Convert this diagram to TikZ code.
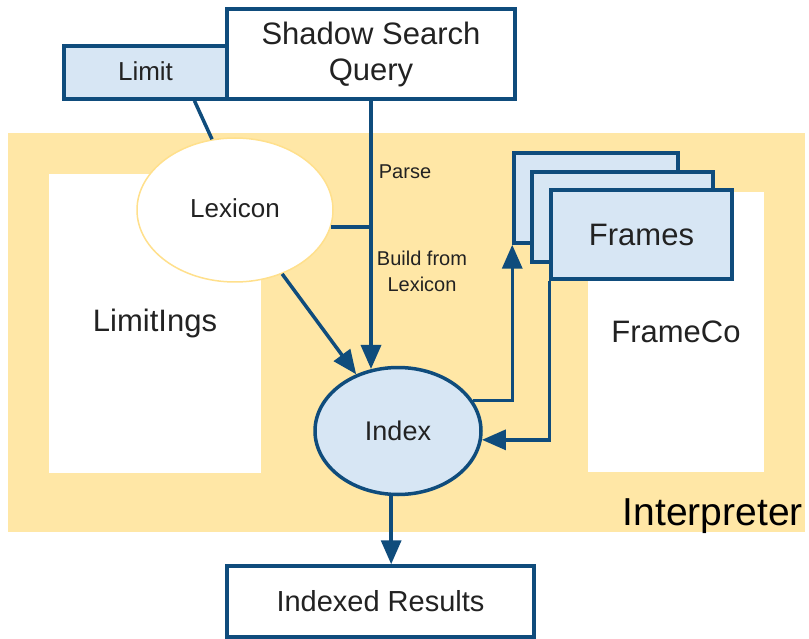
\documentclass[tikz,border=0pt]{standalone}
\usepackage{fontspec}
\setmainfont{Liberation Sans}
\usetikzlibrary{arrows.meta,shapes.geometric}

\definecolor{navy}{HTML}{0F4C7C}
\definecolor{paleblue}{HTML}{D7E6F4}
\definecolor{sand}{HTML}{FFE7A6}
\definecolor{sandline}{HTML}{FFE08C}
\definecolor{ink}{HTML}{222222}

\tikzset{
  box/.style={draw=navy, line width=3.5pt, rectangle, inner sep=0pt, text=ink},
  bluebox/.style={box, fill=paleblue},
  whitebox/.style={box, fill=white},
  panel/.style={rectangle, fill=white, inner sep=0pt, text=ink},
  conn/.style={draw=navy, line width=3.5pt},
  arr/.style={conn, -{Triangle[length=24pt,width=20pt]}},
  lbl/.style={font=\fontsize{20}{26}\selectfont, text=ink, align=center, inner sep=0pt},
}

\begin{document}
\begin{tikzpicture}[x=1pt,y=-1pt]
  \useasboundingbox (0,0) rectangle (809,639);

  % interpreter band and its label
  \node[rectangle, fill=sand, inner sep=0pt, minimum width=797pt, minimum height=399pt] (interp) at (406.5,332.5) {};
  \node[anchor=base east, inner sep=0pt, font=\fontsize{39}{44}\selectfont] (interplbl) at (803,525) {Interpreter};

  % white panels inside the band
  \node[panel, minimum width=212pt, minimum height=299pt, font=\fontsize{31}{36}\selectfont] (limitings) at (155,323.5) {LimitIngs};
  \node[panel, minimum width=176pt, minimum height=280pt, font=\fontsize{31}{36}\selectfont] (frameco) at (676,332) {FrameCo};

  % lexicon
  \node[ellipse, draw=sandline, line width=1.5pt, fill=white, minimum width=196pt, minimum height=144pt, inner sep=0pt, text=ink, font=\fontsize{26}{30}\selectfont] (lex) at (235,210) {\raisebox{3pt}{Lexicon}};

  % inputs at the top
  \node[bluebox, minimum width=163pt, minimum height=53pt, font=\fontsize{26}{30}\selectfont] (limit) at (145.5,72.5) {\raisebox{2pt}{Limit}};
  \node[whitebox, minimum width=288pt, minimum height=90pt, align=center, font=\fontsize{31}{36}\selectfont] (query) at (371,54) {Shadow Search\\Query};

  % stack of frames
  \node[bluebox, minimum width=164pt, minimum height=90pt] (f1) at (596,198) {};
  \node[bluebox, minimum width=181pt, minimum height=90pt] (f2) at (622.5,217) {};
  \node[bluebox, minimum width=181pt, minimum height=89pt, font=\fontsize{31}{36}\selectfont] (f3) at (641.5,234.5) {Frames};

  % index and results
  \node[ellipse, draw=navy, line width=3.5pt, fill=paleblue, minimum width=166pt, minimum height=127pt, inner sep=0pt, text=ink, font=\fontsize{27}{32}\selectfont] (idx) at (398,431) {Index};
  \node[whitebox, minimum width=307pt, minimum height=71pt, font=\fontsize{29}{34}\selectfont] (res) at (380.5,601.5) {Indexed Results};

  % connectors
  \draw[conn] (limit.-30) -- (lex.108);
  \draw[arr] (query.south) -- (query.south |- idx.113);
  \draw[conn] (lex.-10) -- (lex.-10 -| query.south);
  \draw[arr] (lex) -- (idx);
  \draw[arr] (idx.22) -| (f1.south west);
  \draw[arr] (f3.south west) |- (idx.-6);
  \draw[arr] (idx.-96) -- (idx.-96 |- res.north);

  % edge labels
  \node[lbl] (parse) at (405,172) {Parse};
  \node[lbl] (build) at (422,271) {Build from\\Lexicon};
\end{tikzpicture}
\end{document}
